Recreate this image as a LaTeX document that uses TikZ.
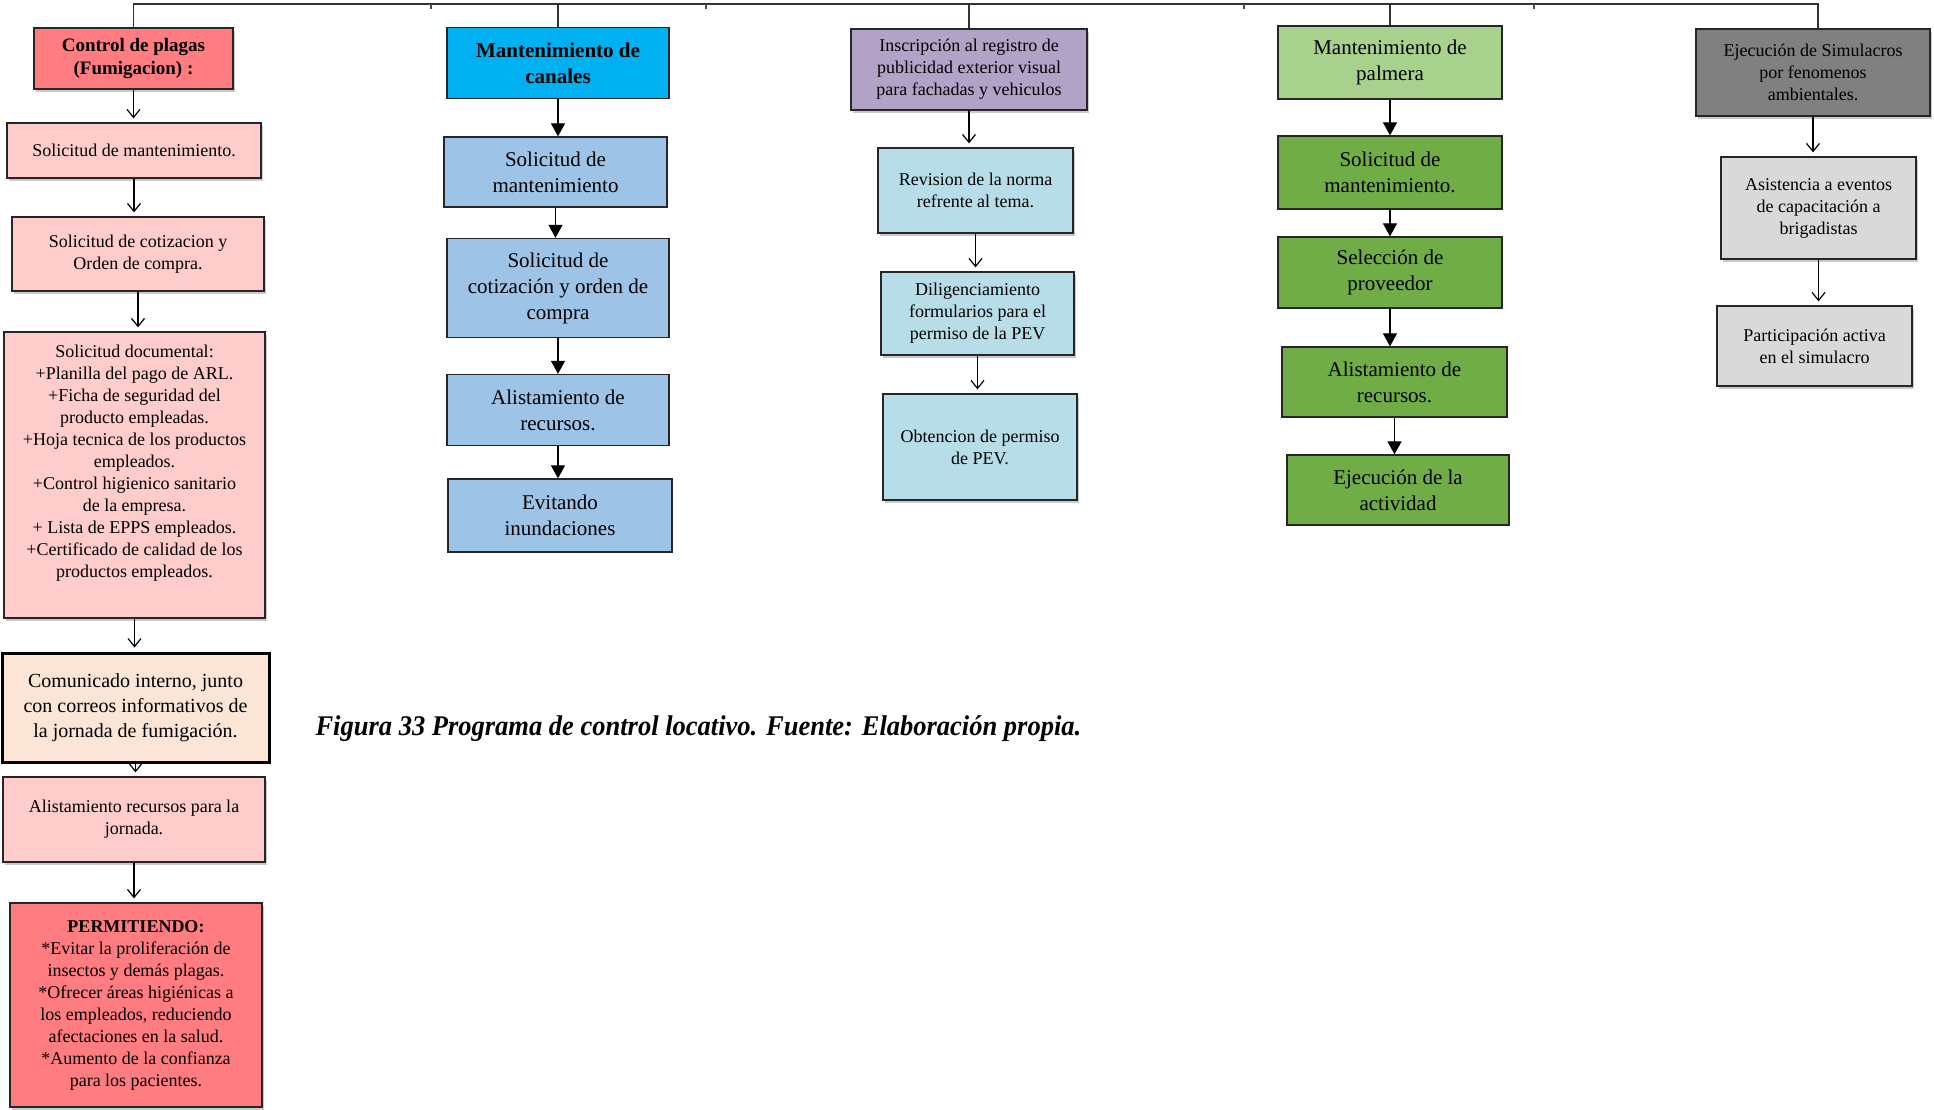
\documentclass[tikz,border=0pt]{standalone}
\usepackage{fontspec}
\setmainfont{Liberation Serif}
\usetikzlibrary{arrows.meta,shadows}
\definecolor{salmon}{HTML}{FF7C80}
\definecolor{rosa}{HTML}{FFCCCC}
\definecolor{durazno}{HTML}{FBE5D6}
\definecolor{cian}{HTML}{00B0F0}
\definecolor{azulclaro}{HTML}{9DC3E6}
\definecolor{lila}{HTML}{B3A2C7}
\definecolor{celeste}{HTML}{B7DEE8}
\definecolor{verdeclaro}{HTML}{A9D18E}
\definecolor{verde}{HTML}{70AD47}
\definecolor{grisoscuro}{HTML}{808080}
\definecolor{grisclaro}{HTML}{D9D9D9}
\tikzset{
  caja/.style={draw=black!85,line width=1.3pt,align=center,inner sep=2pt},
  sombra/.style={drop shadow={shadow xshift=2pt,shadow yshift=-2.5pt,opacity=.35,fill=black!60}},
  abierta/.style={-{Straight Barb[length=8pt,width=13pt]},line width=1.2pt,shorten >=4pt},
  llena/.style={-{Triangle[length=13pt,width=14pt]},line width=1.2pt},
  t18/.style={font=\fontsize{18}{22}\selectfont},
  t21/.style={font=\fontsize{21}{26}\selectfont},
  t17/.style={font=\fontsize{18}{22}\selectfont}
}
\begin{document}
\begin{tikzpicture}[x=1pt,y=-1pt]
\useasboundingbox (0,0) rectangle (1934,1109);
\coordinate (barra) at (0,4);

% control de plagas
\node[caja,sombra,fill=salmon,minimum width=199pt,minimum height=61pt,font=\fontsize{19}{23}\selectfont\bfseries] (plH) at (133.5,58.5) {Control de plagas\\(Fumigacion) :};
\node[caja,sombra,fill=rosa,t18,minimum width=254pt,minimum height=55pt] (pl1) at (134,150.5) {Solicitud de mantenimiento.};
\node[caja,sombra,fill=rosa,t18,minimum width=252pt,minimum height=74pt] (pl2) at (138,254) {Solicitud de cotizacion y\\Orden de compra.};
\node[caja,sombra,fill=rosa,t18,minimum width=261pt,minimum height=286pt] (pl3) at (134.5,475) {Solicitud documental:\\+Planilla del pago de ARL.\\+Ficha de seguridad del\\producto empleadas.\\+Hoja tecnica de los productos\\empleados.\\+Control higienico sanitario\\de la empresa.\\+ Lista de EPPS empleados.\\+Certificado de calidad de los\\productos empleados.\\[6pt]\mbox{}};
\node[caja,fill=durazno,line width=3pt,draw=black,font=\fontsize{20}{25}\selectfont,minimum width=267pt,minimum height=109pt] (pl4) at (135.5,707.5) {Comunicado interno, junto\\con correos informativos de\\la jornada de fumigación.};
\node[caja,sombra,fill=rosa,t18,minimum width=262pt,minimum height=85pt] (pl5) at (134,819.5) {Alistamiento recursos para la\\jornada.};
\node[caja,sombra,fill=salmon,t18,minimum width=252pt,minimum height=204pt] (pl6) at (136,1005) {\textbf{PERMITIENDO:}\\*Evitar la proliferación de\\insectos y demás plagas.\\*Ofrecer áreas higiénicas a\\los empleados, reduciendo\\afectaciones en la salud.\\*Aumento de la confianza\\para los pacientes.};

% mantenimiento de canales
\node[caja,fill=cian,minimum width=222pt,minimum height=71pt,font=\fontsize{21}{26}\selectfont\bfseries] (caH) at (558,63) {Mantenimiento de\\canales};
\node[caja,fill=azulclaro,t21,minimum width=223pt,minimum height=70pt] (ca1) at (555.5,172) {Solicitud de\\mantenimiento};
\node[caja,fill=azulclaro,t21,minimum width=222pt,minimum height=99pt] (ca2) at (558,288) {Solicitud de\\cotización y orden de\\compra};
\node[caja,fill=azulclaro,t21,minimum width=222pt,minimum height=71pt] (ca3) at (558,410) {Alistamiento de\\recursos.};
\node[caja,fill=azulclaro,t21,minimum width=224pt,minimum height=73pt] (ca4) at (560,515.5) {Evitando\\inundaciones};

% publicidad exterior visual
\node[caja,sombra,fill=lila,t17,minimum width=236pt,minimum height=81pt] (inH) at (969,69.5) {Inscripción al registro de\\publicidad exterior visual\\para fachadas y vehiculos};
\node[caja,sombra,fill=celeste,t17,minimum width=195pt,minimum height=85pt] (in1) at (975.5,190.5) {Revision de la norma\\refrente al tema.};
\node[caja,sombra,fill=celeste,t17,minimum width=193pt,minimum height=83pt] (in2) at (977.5,313.5) {Diligenciamiento\\formularios para el\\permiso de la PEV};
\node[caja,sombra,fill=celeste,t17,minimum width=194pt,minimum height=106pt] (in3) at (980,447) {Obtencion de permiso\\de PEV.};

% mantenimiento de palmera
\node[caja,fill=verdeclaro,t21,minimum width=224pt,minimum height=73pt] (paH) at (1390,62.5) {Mantenimiento de\\palmera};
\node[caja,fill=verde,t21,minimum width=224pt,minimum height=73pt] (pa1) at (1390,172.5) {Solicitud de\\mantenimiento.};
\node[caja,fill=verde,t21,minimum width=224pt,minimum height=71pt] (pa2) at (1390,272.5) {Selección de\\proveedor};
\node[caja,fill=verde,t21,minimum width=225pt,minimum height=70pt] (pa3) at (1394.5,382) {Alistamiento de\\recursos.};
\node[caja,fill=verde,t21,minimum width=222pt,minimum height=70pt] (pa4) at (1398,490) {Ejecución de la\\actividad};

% simulacros
\node[caja,sombra,fill=grisoscuro,t17,minimum width=234pt,minimum height=87pt] (siH) at (1813,72.5) {Ejecución de Simulacros\\por fenomenos\\ambientales.};
\node[caja,sombra,fill=grisclaro,t17,minimum width=195pt,minimum height=102pt] (si1) at (1818.5,208) {Asistencia a eventos\\de capacitación a\\brigadistas};
\node[caja,sombra,fill=grisclaro,t17,minimum width=195pt,minimum height=80pt] (si2) at (1814.5,346) {Participación activa\\en el simulacro};

% barra superior
\draw[line width=1.3pt,black!80] (plH.north) -- (plH.north |- barra) -- (1818,4) -- (1818,29);
\foreach \n in {caH,inH,paH} \draw[line width=1.3pt,black!80] (\n.north) -- (\n.north |- barra);
\foreach \x in {431,706,1244,1534} \draw[line width=1.2pt,black!70] (\x,4) -- (\x,9);

% flechas
\foreach \a/\b in {plH/pl1,pl1/pl2,pl2/pl3,pl3/pl4,pl4/pl5,pl5/pl6,inH/in1,in1/in2,in2/in3,siH/si1,si1/si2}
  \draw[abierta] (\a.south) -- (\a.south |- \b.north);
\foreach \a/\b in {caH/ca1,ca1/ca2,ca2/ca3,ca3/ca4,paH/pa1,pa1/pa2,pa2/pa3,pa3/pa4}
  \draw[llena] (\a.south) -- (\a.south |- \b.north);

\node[anchor=west,font=\fontsize{28.5}{32}\selectfont\bfseries\itshape] (pie) at (312,729) {\scalebox{.93}[1]{Figura 33 Programa de control locativo. Fuente: Elaboración propia.}};
\end{tikzpicture}
\end{document}
